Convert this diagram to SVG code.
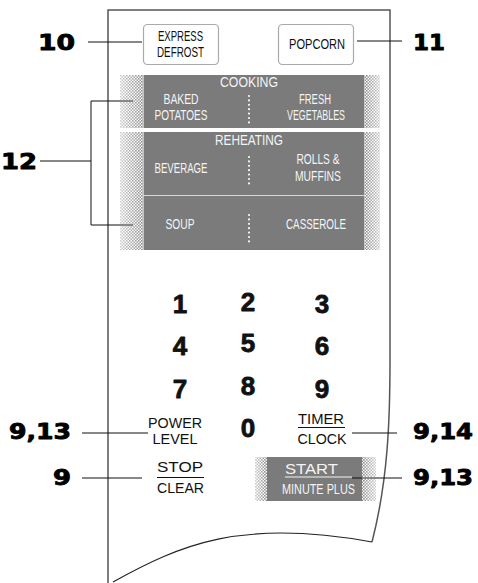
<svg xmlns="http://www.w3.org/2000/svg" width="478" height="583" viewBox="0 0 478 583">
<style>
.lbl{font-family:"DejaVu Sans","Liberation Sans",sans-serif;font-weight:bold;font-size:22px;fill:#000;stroke:#000;stroke-width:0.9;stroke-linejoin:round}
.btn{font-family:"Liberation Sans Narrow","Liberation Sans",sans-serif;font-size:14.5px;fill:#111;text-anchor:middle}
.wt{font-family:"Liberation Sans Narrow","Liberation Sans",sans-serif;font-size:14.5px;fill:#f4f4f4;text-anchor:middle}
.key{font-family:"Liberation Sans Narrow","Liberation Sans",sans-serif;font-size:15.5px;fill:#111;text-anchor:middle}
.num{font-family:"Liberation Sans","DejaVu Sans",sans-serif;font-weight:bold;font-size:26px;fill:#111;stroke:#111;stroke-width:0.8;stroke-linejoin:round;text-anchor:middle}
.ln{stroke:#111;stroke-width:1;fill:none}
.box{fill:#fff;stroke:#aaa;stroke-width:1.2}
.gray{fill:#7b7b7b}
.edge{stroke:#c4c4c4;stroke-width:1}
.dots{stroke:#f4f4f4;stroke-width:2.2;stroke-linecap:round;stroke-dasharray:0 4.4}
.ul{stroke:#111;stroke-width:1.2}
</style>
<defs>
<pattern id="chk" width="3" height="3" patternUnits="userSpaceOnUse">
<rect x="0" y="0" width="1.6" height="1.6" fill="#8a8a8a"/>
<rect x="1.5" y="1.5" width="1.6" height="1.6" fill="#8a8a8a"/>
</pattern>
<linearGradient id="fadeL" x1="0" y1="0" x2="1" y2="0">
<stop offset="0" stop-color="#fff" stop-opacity="0.4"/>
<stop offset="1" stop-color="#fff" stop-opacity="1"/>
</linearGradient>
<linearGradient id="fadeR" x1="0" y1="0" x2="1" y2="0">
<stop offset="0" stop-color="#fff" stop-opacity="1"/>
<stop offset="1" stop-color="#fff" stop-opacity="0.4"/>
</linearGradient>
<mask id="mL" maskContentUnits="objectBoundingBox"><rect width="1" height="1" fill="url(#fadeL)"/></mask>
<mask id="mR" maskContentUnits="objectBoundingBox"><rect width="1" height="1" fill="url(#fadeR)"/></mask>
</defs>

<g id="panel">
<path d="M108,583 V10 H390 V360 C390,420 388,480 372,542" fill="none" stroke="#555" stroke-width="1.5"/>
<path d="M113,582 C180,545 240,518 372,542" fill="none" stroke="#222" stroke-width="1.1"/>
</g>

<g id="connectors">
<line class="ln" x1="88" y1="42" x2="142" y2="42"/>
<line class="ln" x1="357" y1="41" x2="402" y2="41" stroke="#444"/>
<line class="ln" x1="40" y1="161" x2="91" y2="161"/>
<path class="ln" d="M133,101 H91 V225 H133"/>
<line class="ln" x1="82" y1="433" x2="148" y2="433"/>
<line class="ln" x1="352" y1="433" x2="397" y2="433"/>
<line class="ln" x1="82" y1="478" x2="142" y2="478"/>
<line class="ln" x1="352" y1="478" x2="402" y2="478"/>
</g>

<g id="label-10"><text class="lbl" x="38" y="50" textLength="37" lengthAdjust="spacingAndGlyphs">10</text></g>
<g id="label-11"><text class="lbl" x="413" y="50" textLength="32" lengthAdjust="spacingAndGlyphs">11</text></g>
<g id="label-12"><text class="lbl" x="1" y="169" textLength="36" lengthAdjust="spacingAndGlyphs">12</text></g>
<g id="label-9-13-left"><text class="lbl" x="9" y="439" textLength="62" lengthAdjust="spacingAndGlyphs">9,13</text></g>
<g id="label-9-14"><text class="lbl" x="413" y="439" textLength="60" lengthAdjust="spacingAndGlyphs">9,14</text></g>
<g id="label-9"><text class="lbl" x="53" y="485" textLength="18" lengthAdjust="spacingAndGlyphs">9</text></g>
<g id="label-9-13-right"><text class="lbl" x="413" y="485" textLength="60" lengthAdjust="spacingAndGlyphs">9,13</text></g>

<g id="express-defrost">
<rect class="box" x="143.5" y="24.5" width="75" height="40" rx="4"/>
<text class="btn" x="180.5" y="41" textLength="45" lengthAdjust="spacingAndGlyphs">EXPRESS</text>
<text class="btn" x="180.5" y="57" textLength="47" lengthAdjust="spacingAndGlyphs">DEFROST</text>
</g>

<g id="popcorn">
<rect class="box" x="278.5" y="24.5" width="75" height="40" rx="4"/>
<text class="btn" x="317" y="49" textLength="56" lengthAdjust="spacingAndGlyphs">POPCORN</text>
</g>

<g id="cooking-row">
<rect x="120" y="75" width="23" height="53" fill="url(#chk)" mask="url(#mL)"/>
<rect x="365" y="75" width="15" height="53" fill="url(#chk)" mask="url(#mR)"/>
<rect class="gray" x="143" y="75" width="222" height="53"/>
<line class="edge" x1="143.5" y1="75" x2="143.5" y2="128"/>
<line class="edge" x1="364.5" y1="75" x2="364.5" y2="128"/>
<text class="wt" x="249" y="87" textLength="58" lengthAdjust="spacingAndGlyphs">COOKING</text>
<text class="wt" x="181" y="103.5" textLength="35" lengthAdjust="spacingAndGlyphs">BAKED</text>
<text class="wt" x="181" y="119.5" textLength="53" lengthAdjust="spacingAndGlyphs">POTATOES</text>
<text class="wt" x="315" y="103.5" textLength="32" lengthAdjust="spacingAndGlyphs">FRESH</text>
<text class="wt" x="316" y="119.5" textLength="58" lengthAdjust="spacingAndGlyphs">VEGETABLES</text>
<line class="dots" x1="249" y1="96" x2="249" y2="123"/>
</g>

<g id="reheating-row">
<rect x="120" y="132" width="23" height="64" fill="url(#chk)" mask="url(#mL)"/>
<rect x="365" y="132" width="15" height="64" fill="url(#chk)" mask="url(#mR)"/>
<rect class="gray" x="143" y="132" width="222" height="63"/>
<line class="edge" x1="143.5" y1="132" x2="143.5" y2="195"/>
<line class="edge" x1="364.5" y1="132" x2="364.5" y2="195"/>
<text class="wt" x="249" y="145" textLength="68" lengthAdjust="spacingAndGlyphs">REHEATING</text>
<text class="wt" x="181" y="172.5" textLength="53" lengthAdjust="spacingAndGlyphs">BEVERAGE</text>
<text class="wt" x="318" y="163.5" textLength="43" lengthAdjust="spacingAndGlyphs">ROLLS &amp;</text>
<text class="wt" x="318" y="180.5" textLength="46" lengthAdjust="spacingAndGlyphs">MUFFINS</text>
<line class="dots" x1="249" y1="157" x2="249" y2="184"/>
</g>

<g id="soup-row">
<rect x="120" y="196" width="23" height="54" fill="url(#chk)" mask="url(#mL)"/>
<rect x="365" y="196" width="15" height="54" fill="url(#chk)" mask="url(#mR)"/>
<rect class="gray" x="143" y="196" width="222" height="54"/>
<line x1="143" y1="195.5" x2="365" y2="195.5" stroke="#d8d8d8" stroke-width="1"/>
<line class="edge" x1="143.5" y1="196" x2="143.5" y2="250"/>
<line class="edge" x1="364.5" y1="196" x2="364.5" y2="250"/>
<text class="wt" x="180" y="229" textLength="29" lengthAdjust="spacingAndGlyphs">SOUP</text>
<text class="wt" x="316" y="229" textLength="60" lengthAdjust="spacingAndGlyphs">CASSEROLE</text>
<line class="dots" x1="249" y1="215" x2="249" y2="242"/>
</g>

<g id="keypad">
<text class="num" x="180" y="313">1</text>
<text class="num" x="248" y="311">2</text>
<text class="num" x="322" y="313">3</text>
<text class="num" x="180" y="355">4</text>
<text class="num" x="248" y="352">5</text>
<text class="num" x="322" y="355">6</text>
<text class="num" x="180" y="398">7</text>
<text class="num" x="248" y="395">8</text>
<text class="num" x="322" y="398">9</text>
<text class="num" x="248" y="437">0</text>
</g>

<g id="power-level">
<text class="key" x="175" y="428" textLength="54" lengthAdjust="spacingAndGlyphs">POWER</text>
<text class="key" x="175" y="443.5" textLength="45" lengthAdjust="spacingAndGlyphs">LEVEL</text>
</g>

<g id="timer-clock">
<text class="key" x="321" y="424" textLength="46" lengthAdjust="spacingAndGlyphs">TIMER</text>
<line class="ul" x1="298" y1="427.5" x2="345" y2="427.5"/>
<text class="key" x="322" y="443.5" textLength="49" lengthAdjust="spacingAndGlyphs">CLOCK</text>
</g>

<g id="stop-clear">
<text class="key" x="180" y="472" textLength="46" lengthAdjust="spacingAndGlyphs">STOP</text>
<line class="ul" x1="157" y1="477.5" x2="204" y2="477.5"/>
<text class="key" x="180.5" y="492.5" textLength="47" lengthAdjust="spacingAndGlyphs">CLEAR</text>
</g>

<g id="start-minute-plus">
<rect x="255" y="457" width="12" height="44" fill="url(#chk)" mask="url(#mL)"/>
<rect x="362" y="457" width="14" height="44" fill="url(#chk)" mask="url(#mR)"/>
<rect class="gray" x="267" y="457" width="95" height="44"/>
<text class="key" x="311.5" y="474" style="fill:#f4f4f4" textLength="53" lengthAdjust="spacingAndGlyphs">START</text>
<line x1="285" y1="477" x2="352" y2="477" stroke="#f4f4f4" stroke-width="1.2"/>
<text class="key" x="318.5" y="493.5" style="fill:#f4f4f4" textLength="73" lengthAdjust="spacingAndGlyphs">MINUTE PLUS</text>
<line class="ln" x1="352" y1="478" x2="362" y2="478"/>
</g>
</svg>
